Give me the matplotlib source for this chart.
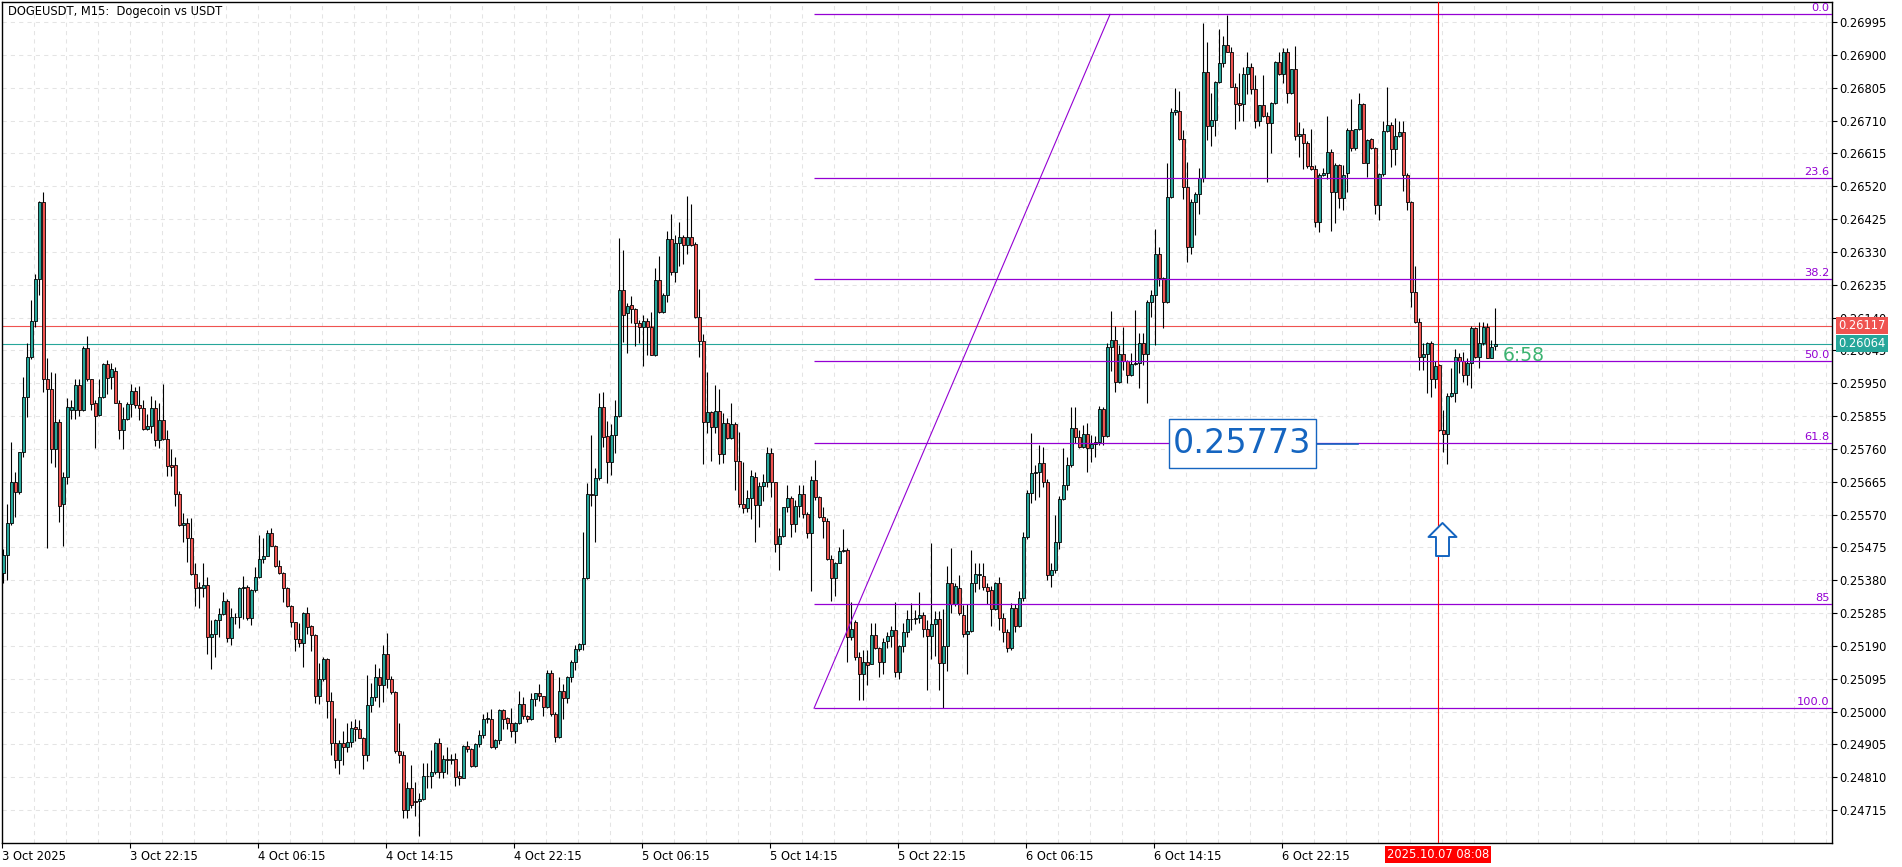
import matplotlib
matplotlib.use("Agg")
import matplotlib.pyplot as plt
from matplotlib.path import Path
from matplotlib.transforms import blended_transform_factory

# ---------------- data (prices in 1e-5 units) ----------------
POINT = 1e-5
opens = [
25400,25453,25545,25665,25634,25750,25909,26025,26129,26251,26473,25961,25932,25759,25837,25600,25678,25874,25874,25944,
25873,26051,25961,25892,25857,25911,26005,25967,25986,25894,25815,25846,25890,25927,25887,25877,25817,25826,25877,25786,
25844,25788,25713,25713,25631,25540,25545,25501,25397,25361,25359,25366,25215,25226,25265,25282,25320,25212,25273,25273,
25358,25361,25270,25352,25390,25441,25451,25516,25480,25422,25400,25359,25306,25258,25210,25200,25284,25247,25223,25046,
25093,25152,25031,24910,24861,24909,24898,24913,24955,24949,24925,24876,25018,25043,25099,25077,25168,25095,25056,24885,
24874,24715,24779,24742,24742,24748,24813,24813,24824,24909,24824,24864,24861,24864,24814,24809,24900,24892,24843,24906,
24931,24978,24978,24898,24919,25006,24982,24967,24943,24967,25022,24988,24980,25038,25053,25044,25012,25111,24992,24928,
25061,25040,25101,25144,25180,25195,25387,25631,25628,25676,25881,25797,25723,25800,25855,26220,26152,26175,26164,26123,
26114,26129,26112,26031,26249,26155,26204,26366,26271,26355,26372,26349,26372,26352,26141,26071,25839,25866,25824,25869,
25744,25836,25793,25831,25726,25602,25588,25619,25680,25599,25654,25663,25747,25663,25486,25508,25591,25617,25544,25596,
25631,25571,25518,25670,25621,25564,25551,25443,25388,25431,25464,25467,25215,25260,25157,25110,25144,25139,25223,25183,
25144,25205,25220,25236,25115,25189,25229,25267,25269,25272,25281,25240,25219,25253,25267,25142,25190,25371,25311,25359,
25281,25226,25233,25373,25395,25392,25361,25351,25298,25373,25272,25229,25183,25301,25248,25330,25505,25632,25690,25692,
25720,25664,25395,25410,25490,25615,25656,25714,25820,25794,25767,25802,25762,25775,25781,25876,25796,26054,26075,25955,
26034,26013,25974,26006,26008,26066,26035,26184,26206,26323,26254,26184,26488,26734,26738,26656,26517,26343,26475,26497,
26543,26850,26695,26712,26821,26876,26929,26909,26808,26760,26758,26845,26864,26801,26710,26754,26724,26702,26760,26879,
26845,26908,26789,26858,26664,26671,26644,26577,26569,26416,26553,26558,26618,26503,26582,26485,26558,26683,26630,26685,
26757,26588,26656,26630,26466,26556,26680,26696,26627,26666,26676,26551,26474,26215,26128,26025,26034,26066,25962,26003,
25815,25803,25913,25921,26025,26013,25974,26008,26109,26025,26066,26112,26024,26058,
]
highs = [
25470,25602,25781,25692,25752,25969,26065,26191,26265,26476,26502,26022,25983,25981,25847,25692,25906,25901,25963,25963,
26059,26087,25963,25901,25961,26008,26017,26008,25996,25901,25882,25897,25948,25938,25942,25901,25860,25913,25901,25892,
25948,25815,25759,25737,25639,25574,25559,25559,25429,25376,25429,25390,25265,25268,25299,25347,25325,25299,25284,25361,
25393,25366,25356,25419,25511,25503,25525,25530,25482,25438,25403,25361,25308,25260,25255,25289,25303,25250,25225,25141,
25158,25155,25056,24982,24919,24945,24967,24973,24980,24977,24928,25107,25083,25138,25126,25193,25227,25103,25059,24967,
24886,24797,24846,24797,24766,24852,24852,24888,24911,24925,24876,24897,24878,24880,24827,24904,24915,24894,24908,24947,
24992,24998,25007,24921,25008,25008,24984,25010,24969,25061,25043,24990,25053,25055,25081,25046,25120,25120,24998,25101,
25079,25104,25150,25193,25199,25521,25661,25801,25706,25921,25926,25840,25832,25902,26369,26335,26183,26202,26167,26133,
26147,26140,26155,26282,26318,26210,26390,26440,26379,26417,26379,26493,26469,26360,26222,26093,25982,25870,25945,25932,
25863,25849,25892,25837,25809,25723,25641,25699,25694,25665,25687,25766,25764,25665,25530,25593,25655,25623,25612,25655,
25655,25578,25681,25729,25623,25592,25559,25453,25433,25477,25528,25472,25318,25265,25173,25178,25178,25255,25255,25187,
25212,25231,25247,25318,25192,25255,25293,25313,25293,25345,25289,25265,25489,25292,25292,25298,25422,25472,25371,25395,
25308,25310,25469,25431,25430,25429,25373,25363,25376,25390,25284,25240,25313,25311,25349,25520,25640,25805,25714,25772,
25767,25672,25430,25570,25625,25762,25736,25881,25881,25815,25830,25834,25801,25796,25884,25881,26066,26159,26116,26061,
26112,26018,26037,26162,26095,26095,26191,26220,26396,26345,26257,26586,26745,26803,26794,26683,26589,26482,26503,26572,
26991,26938,26791,26823,26975,26955,27016,26924,26818,26847,26866,26907,26876,26842,26755,26842,26736,26765,26881,26909,
26921,26921,26860,26927,26705,26688,26652,26686,26582,26559,26572,26723,26627,26588,26584,26580,26688,26773,26686,26791,
26760,26656,26658,26632,26558,26710,26806,26705,26717,26710,26710,26558,26476,26288,26138,26066,26068,26071,26013,26005,
25873,25921,25993,26048,26037,26039,26022,26117,26114,26128,26126,26124,26075,26167,
]
lows = [
25371,25381,25540,25564,25631,25737,25853,26020,26114,26205,25926,25472,25720,25709,25549,25480,25658,25846,25846,25855,
25870,25956,25874,25764,25855,25908,25918,25932,25892,25789,25759,25844,25851,25877,25844,25815,25815,25805,25769,25762,
25786,25683,25683,25596,25538,25490,25434,25395,25306,25301,25332,25168,25122,25157,25217,25280,25202,25193,25253,25241,
25268,25265,25252,25345,25387,25429,25449,25478,25419,25398,25316,25303,25244,25175,25188,25130,25226,25174,25025,25022,
25090,24983,24876,24837,24821,24846,24882,24898,24915,24923,24833,24858,25000,25032,25012,25028,25068,25050,24880,24852,
24693,24691,24720,24699,24639,24745,24779,24779,24821,24807,24809,24821,24848,24785,24787,24807,24882,24839,24841,24898,
24925,24967,24896,24891,24906,24949,24949,24928,24909,24965,24980,24970,24976,25016,25031,24986,25010,24986,24912,24925,
24980,25026,25085,25120,25174,25178,25385,25594,25491,25671,25765,25660,25684,25749,25853,26070,26037,26123,26059,26066,
26001,26032,26031,26029,26153,26153,26186,26263,26242,26289,26295,26324,26347,26139,26025,25715,25805,25726,25805,25715,
25718,25790,25790,25641,25592,25576,25578,25556,25491,25535,25609,25650,25621,25462,25411,25504,25578,25506,25520,25564,
25559,25501,25349,25612,25559,25501,25440,25321,25335,25429,25462,25144,25207,25149,25033,25035,25077,25137,25180,25101,
25110,25183,25187,25101,25093,25173,25215,25236,25253,25255,25215,25064,25151,25160,25064,25010,25118,25284,25305,25279,
25216,25108,25231,25347,25356,25353,25311,25247,25295,25236,25202,25173,25178,25229,25245,25320,25500,25603,25613,25622,
25651,25380,25360,25400,25470,25612,25641,25709,25776,25762,25762,25694,25723,25736,25772,25772,25794,25984,25926,25950,
25989,25950,25970,26003,25936,26003,25892,26143,26061,26230,26109,26181,26486,26726,26654,26482,26302,26324,26379,26439,
26533,26654,26635,26664,26818,26866,26907,26806,26686,26710,26710,26787,26787,26688,26694,26721,26531,26617,26758,26842,
26818,26760,26787,26654,26604,26569,26572,26567,26401,26387,26550,26541,26389,26413,26456,26451,26503,26623,26625,26683,
26586,26548,26628,26440,26421,26550,26678,26575,26582,26662,26505,26451,26172,26125,25989,25989,25921,25911,25936,25813,
25752,25716,25911,25895,25981,25955,25945,25936,26023,25993,26061,26022,26022,26046,
]
closes = [
25453,25545,25665,25634,25750,25909,26025,26129,26251,26473,25961,25932,25759,25837,25595,25678,25880,25880,25944,25873,
26051,25961,25889,25855,25911,26005,25964,25991,25894,25815,25846,25890,25927,25887,25877,25817,25826,25877,25786,25844,
25788,25711,25709,25631,25540,25545,25501,25397,25359,25359,25366,25215,25226,25265,25282,25320,25212,25273,25275,25358,
25361,25270,25352,25390,25441,25451,25516,25480,25422,25400,25359,25306,25258,25210,25200,25284,25246,25223,25046,25093,
25152,25031,24910,24861,24909,24898,24913,24953,24949,24925,24876,25018,25043,25099,25077,25168,25095,25056,24885,24874,
24715,24779,24730,24738,24748,24813,24815,24824,24909,24824,24864,24861,24864,24812,24809,24900,24892,24843,24906,24931,
24980,24982,24898,24919,25006,24980,24967,24943,24967,25022,24986,24980,25038,25053,25044,25012,25111,24992,24928,25061,
25040,25101,25144,25180,25195,25387,25631,25628,25676,25881,25795,25723,25800,25855,26220,26147,26174,26164,26123,26114,
26129,26112,26031,26249,26155,26204,26366,26271,26355,26372,26349,26372,26349,26141,26071,25839,25866,25824,25869,25744,
25834,25793,25831,25726,25602,25588,25619,25683,25599,25654,25663,25747,25663,25486,25508,25591,25617,25544,25596,25631,
25571,25518,25670,25621,25564,25551,25443,25388,25431,25464,25467,25215,25238,25157,25110,25144,25136,25223,25183,25144,
25202,25220,25236,25115,25189,25229,25267,25269,25272,25281,25240,25219,25253,25267,25142,25190,25371,25311,25363,25284,
25226,25233,25373,25398,25398,25361,25349,25298,25373,25272,25229,25183,25301,25248,25330,25505,25632,25690,25694,25720,
25664,25395,25410,25490,25615,25656,25714,25820,25794,25767,25802,25762,25775,25781,25876,25796,26054,26075,25955,26034,
26013,25974,26006,26010,26066,26035,26184,26206,26323,26254,26184,26488,26734,26741,26656,26517,26343,26475,26497,26543,
26850,26695,26712,26821,26876,26929,26909,26808,26758,26756,26845,26864,26801,26710,26754,26724,26702,26760,26879,26845,
26908,26789,26858,26664,26671,26644,26577,26569,26416,26553,26558,26618,26503,26582,26485,26553,26683,26630,26685,26757,
26588,26654,26630,26466,26556,26680,26696,26627,26666,26676,26551,26474,26215,26128,26025,26034,26066,25962,26000,25815,
25803,25913,25921,26025,26013,25974,26008,26109,26025,26066,26112,26024,26056,26064,
]

x_labels = ["3 Oct 2025", "3 Oct 22:15", "4 Oct 06:15", "4 Oct 14:15", "4 Oct 22:15",
            "5 Oct 06:15", "5 Oct 14:15", "5 Oct 22:15", "6 Oct 06:15", "6 Oct 14:15", "6 Oct 22:15"]
bars_per_label = 32
bars_per_grid = 8
y_labels = ["0.26995", "0.26900", "0.26805", "0.26710", "0.26615", "0.26520", "0.26425",
            "0.26330", "0.26235", "0.26140", "0.26045", "0.25950", "0.25855", "0.25760",
            "0.25665", "0.25570", "0.25475", "0.25380", "0.25285", "0.25190", "0.25095",
            "0.25000", "0.24905", "0.24810", "0.24715"]

fib_low, fib_high = 0.25010, 0.27017
fib_levels = [0.0, 23.6, 38.2, 50.0, 61.8, 85.0, 100.0]
fib_names = ["0.0", "23.6", "38.2", "50.0", "61.8", "85", "100.0"]
fib_start_bar, fib_end_bar = 202.7, 276.7

ask_price = 0.26117
bid_price = 0.26064
marked_price = 0.25773
crosshair_bar = 358.75
crosshair_label = "2025.10.07 08:08"
timer_text = "6:58"
title = "DOGEUSDT, M15:  Dogecoin vs USDT"

BULL = "#26A69A"
BEAR = "#EF5350"
FIB = "#9400D3"
BLUE = "#1565C0"

# ---------------- figure ----------------
W, H = 1902, 867
fig = plt.figure(figsize=(W / 100, H / 100), dpi=100)
fig.patch.set_facecolor("white")
L, R, T, B = 2.3, 1832, 2.3, 843
ax = fig.add_axes([L / W, (H - B) / H, (R - L) / W, (B - T) / H])
ax.set_facecolor("white")
n = len(closes)
ax.set_xlim(-0.25, 457.2)
ax.set_ylim(0.24620, 0.27052)

# grid
for i in range(0, 58):
    ax.axvline(i * bars_per_grid - 0.25, color="#E4E4E4", lw=0.75, ls=(0, (4, 4)), zorder=0)
yt = [float(s) for s in y_labels]
for v in yt:
    ax.axhline(v, color="#E4E4E4", lw=0.75, ls=(0, (4, 4)), zorder=0)

# candles
xs = list(range(n))
o = [v * POINT for v in opens]
h = [v * POINT for v in highs]
l = [v * POINT for v in lows]
c = [v * POINT for v in closes]
cols = [BULL if cc >= oo else BEAR for oo, cc in zip(o, c)]
ax.vlines(xs, l, h, color="black", lw=0.8, zorder=3)
bottoms = [min(oo, cc) for oo, cc in zip(o, c)]
heights = [max(abs(cc - oo), 0.000015) for oo, cc in zip(o, c)]
ax.bar(xs, heights, bottom=bottoms, width=0.72, color=cols, edgecolor="black",
       linewidth=0.6, zorder=4)

# bid / ask lines
ax.axhline(ask_price, color=BEAR, lw=0.8, zorder=2.5)
ax.axhline(bid_price, color=BULL, lw=0.8, zorder=2.5)

# fibonacci
rng = fib_high - fib_low
for lv, name in zip(fib_levels, fib_names):
    p = fib_high - lv / 100.0 * rng
    ax.plot([fib_start_bar, 457.2], [p, p], color=FIB, lw=0.9, zorder=5, solid_capstyle="butt")
    ax.text(456.6, p + 0.00003, name, color=FIB, fontsize=8.2, ha="right", va="bottom", zorder=6)
ax.plot([fib_start_bar, fib_end_bar], [fib_low, fib_high], color=FIB, lw=0.8, zorder=5)

# crosshair
ax.axvline(crosshair_bar, color="red", lw=0.8, zorder=6)

# marked price label
ax.plot([328.4, 338.7], [marked_price, marked_price], color=BLUE, lw=1.2, zorder=6)
ax.text(309.8, 0.25776, f"{marked_price:.5f}", color=BLUE, fontsize=24, ha="center", va="center",
        zorder=7, bbox=dict(boxstyle="square,pad=0.12", mutation_aspect=2.0,
                            facecolor="white", edgecolor=BLUE, lw=1.0))

# up arrow
verts = [(0, 0.5), (0.424, 0.076), (0.197, 0.076), (0.197, -0.5), (-0.197, -0.5),
         (-0.197, 0.076), (-0.424, 0.076), (0, 0.5)]
codes = [Path.MOVETO] + [Path.LINETO] * 6 + [Path.CLOSEPOLY]
arrow = Path(verts, codes)
ax.plot([359.6], [0.25498], marker=arrow, markersize=23.8, markerfacecolor="white",
        markeredgecolor=BLUE, markeredgewidth=1.4, zorder=7, linestyle="none")

# timer
ax.text(n + 0.9, 0.26029, timer_text, color="#3CB371", fontsize=13.5, ha="left", va="center", zorder=7)

# axes styling
for s in ax.spines.values():
    s.set_color("black")
    s.set_linewidth(1.0)
ax.yaxis.tick_right()
ax.set_yticks(yt)
ax.set_yticklabels(y_labels)
ax.tick_params(axis="y", which="major", length=3.5, width=0.8, pad=1.5, labelsize=8.3, colors="black")
xt = [i * bars_per_label - 0.25 for i in range(len(x_labels))]
ax.set_xticks(xt)
ax.set_xticklabels(x_labels)
for t in ax.get_xticklabels():
    t.set_ha("left")
ax.tick_params(axis="x", which="major", length=3.5, width=0.8, pad=1.5, labelsize=8.3, colors="black")

# price tags on the right
tr = blended_transform_factory(ax.transAxes, ax.transData)
for price, col in [(ask_price, BEAR), (bid_price, BULL)]:
    ax.text(1.0035, price, f"{price:.5f}", transform=tr, color="white", fontsize=8.3,
            ha="left", va="center", zorder=10, clip_on=False,
            bbox=dict(boxstyle="square,pad=0.18", facecolor=col, edgecolor="none"))

# crosshair time tag
trx = blended_transform_factory(ax.transData, ax.transAxes)
ax.text(crosshair_bar, -0.0135, crosshair_label, transform=trx, color="white", fontsize=8.3,
        ha="center", va="center", zorder=10, clip_on=False,
        bbox=dict(boxstyle="square,pad=0.18", facecolor="#FF0000", edgecolor="none"))

# title
fig.text(8 / W, 1 - 12 / H, title, fontsize=8.3, ha="left", va="center", color="black")

fig.savefig("out.png", dpi=100, facecolor="white")
